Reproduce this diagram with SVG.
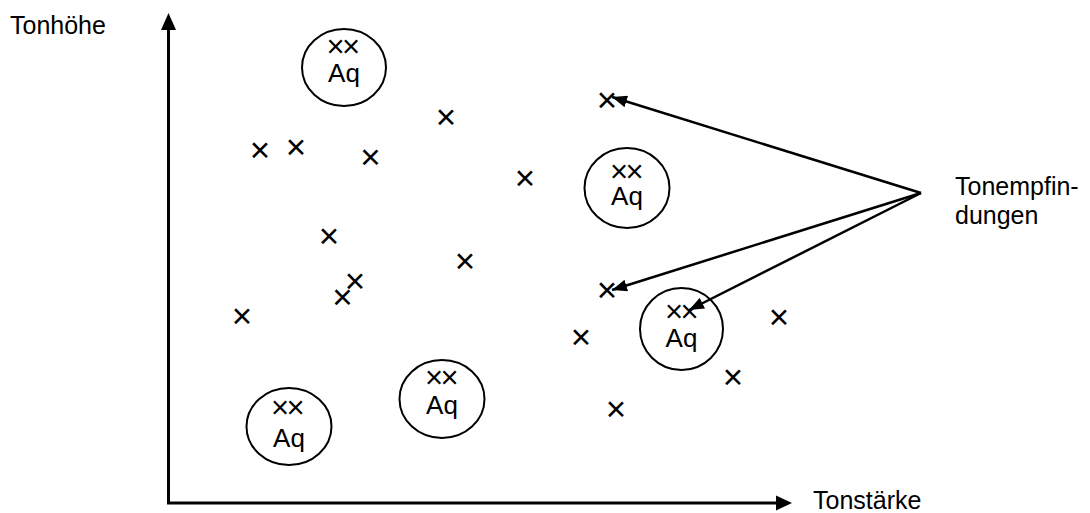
<svg xmlns="http://www.w3.org/2000/svg" width="1090" height="513" viewBox="0 0 1090 513">
<style>
text{font-family:"Liberation Sans",Arial,sans-serif;fill:#000}
.lbl{font-size:25px}
.x{font-size:35px;text-anchor:middle}
.xx{font-size:31px;text-anchor:middle;letter-spacing:-2.5px}
.aq{font-size:26px;text-anchor:middle}
.ring{fill:none;stroke:#000;stroke-width:2}
.axis{stroke:#000;stroke-width:3;fill:none}
.conn{stroke:#000;stroke-width:2.5;fill:none}
</style>
<defs>
<marker id="ah" markerWidth="15" markerHeight="12" refX="15" refY="6" orient="auto" markerUnits="userSpaceOnUse">
<path d="M0,0 L15,6 L0,12 Z" fill="#000"/>
</marker>
</defs>
<rect width="1090" height="513" fill="#fff"/>
<g id="axes">
<path class="axis" d="M168.5,503 V29"/>
<path d="M161,30 L168.5,13 L176,30 Z" fill="#000"/>
<path class="axis" d="M167,503 H776"/>
<path d="M776,495.5 L792,503 L776,510.5 Z" fill="#000"/>
</g>
<g id="axis-labels">
<text class="lbl" x="10" y="34">Tonhöhe</text>
<text class="lbl" x="813" y="509">Tonstärke</text>
</g>
<g id="label-tonempfindungen">
<text class="lbl" x="955" y="195">Tonempfin-</text>
<text class="lbl" x="955" y="224">dungen</text>
</g>
<g id="crosses">
<text class="x" x="260" y="162">×</text>
<text class="x" x="296" y="159">×</text>
<text class="x" x="370.5" y="169">×</text>
<text class="x" x="446" y="129">×</text>
<text class="x" x="525" y="190">×</text>
<text class="x" x="607" y="111.5">×</text>
<text class="x" x="329" y="248">×</text>
<text class="x" x="465" y="273">×</text>
<text class="x" x="355" y="293">×</text>
<text class="x" x="342.5" y="309">×</text>
<text class="x" x="242" y="328">×</text>
<text class="x" x="607" y="301.5">×</text>
<text class="x" x="581" y="348.5">×</text>
<text class="x" x="779" y="329">×</text>
<text class="x" x="733" y="389">×</text>
<text class="x" x="616" y="421">×</text>
</g>
<g id="aq1">
<ellipse class="ring" cx="344" cy="67.5" rx="42" ry="38.5"/>
<text class="xx" x="342" y="56.5">××</text>
<text class="aq" x="344" y="82">Aq</text>
</g>
<g id="aq2">
<ellipse class="ring" cx="627" cy="188" rx="42.5" ry="40"/>
<text class="xx" x="625.5" y="181.5">××</text>
<text class="aq" x="627" y="205">Aq</text>
</g>
<g id="aq3">
<ellipse class="ring" cx="681.5" cy="329" rx="41.5" ry="41"/>
<text class="xx" x="680.5" y="321.5">××</text>
<text class="aq" x="681.5" y="347">Aq</text>
</g>
<g id="aq4">
<ellipse class="ring" cx="442" cy="399" rx="42.5" ry="39"/>
<text class="xx" x="440.5" y="388">××</text>
<text class="aq" x="442" y="413.5">Aq</text>
</g>
<g id="aq5">
<ellipse class="ring" cx="289" cy="426.5" rx="42.5" ry="38.5"/>
<text class="xx" x="286.5" y="418">××</text>
<text class="aq" x="289" y="447">Aq</text>
</g>
<g id="connectors">
<path class="conn" marker-end="url(#ah)" d="M921,193 L612,97"/>
<path class="conn" marker-end="url(#ah)" d="M921,193 L612,290"/>
<path class="conn" marker-end="url(#ah)" d="M921,193 L689,310"/>
</g>
</svg>
